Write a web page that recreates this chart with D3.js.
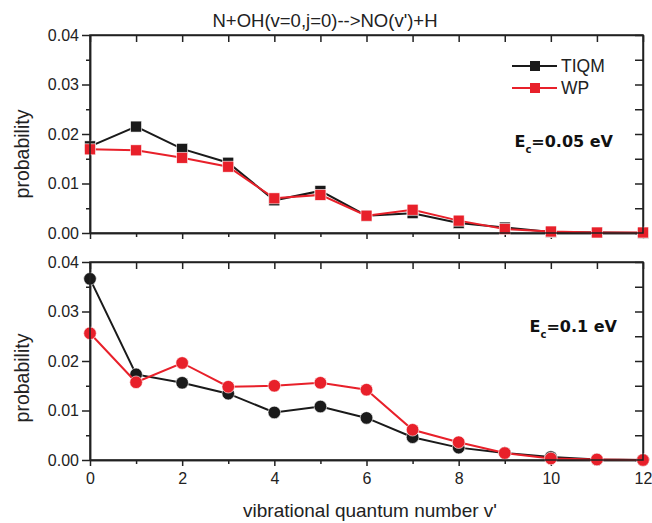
<!DOCTYPE html>
<meta charset="utf-8">
<style>
body {
  margin: 0;
  background: #fff;
  font-family: "Liberation Sans", Arial, sans-serif;
}
.axis path, .axis line {
  stroke: #222;
  stroke-width: 1.5;
}
.axis text {
  font-family: "Liberation Sans", Arial, sans-serif;
  font-size: 16px;
  fill: #222;
}
</style>
<body>
<script src="https://cdn.jsdelivr.net/npm/d3@7"></script>
<script>

var width = 652,
    height = 523;

// vibrational quantum number v'
var levels = [0, 1, 2, 3, 4, 5, 6, 7, 8, 9, 10, 11, 12];

// Ec = 0.05 eV
var tiqm05 = [0.0175, 0.0215, 0.0170, 0.0142, 0.0066, 0.0085, 0.0035, 0.0040, 0.0020, 0.0011, 0.0002, 0.0001, 0.0000];
var wp05   = [0.0169, 0.0167, 0.0152, 0.0134, 0.0070, 0.0077, 0.0035, 0.0047, 0.0025, 0.0008, 0.0003, 0.0001, 0.0001];

// Ec = 0.1 eV
var tiqm1 = [0.0366, 0.0173, 0.0156, 0.0134, 0.0096, 0.0108, 0.0085, 0.0046, 0.0025, 0.0014, 0.0006, 0.0001, 0.0000];
var wp1   = [0.0256, 0.0157, 0.0196, 0.0148, 0.0150, 0.0156, 0.0142, 0.0061, 0.0036, 0.0014, 0.0003, 0.0001, 0.0000];

var yTicks = [0, 0.01, 0.02, 0.03, 0.04];
var yMinor = [0.005, 0.015, 0.025, 0.035];
var xTicks = [0, 2, 4, 6, 8, 10, 12];
var xMinor = [1, 3, 5, 7, 9, 11];

var panels = [
  {tiqm: tiqm05, wp: wp05, marker: "square", label: "=0.05 eV", top: 35, bottom: 233, labelX: 613, labelY: 147, ylabY: 154, xlabels: false},
  {tiqm: tiqm1, wp: wp1, marker: "circle", label: "=0.1 eV", top: 262, bottom: 460, labelX: 617, labelY: 332, ylabY: 378, xlabels: true}
];

var black = "#1a1a1a",
    red = "#e8202a";

var x = d3.scaleLinear().domain([0, 12]).range([90, 643]);

var svg = d3.select("body").append("svg")
    .attr("width", width)
    .attr("height", height);

// title
svg.append("text")
    .attr("x", 325)
    .attr("y", 27)
    .attr("text-anchor", "middle")
    .style("font-size", "18.5px")
    .style("fill", "#222")
    .text("N+OH(v=0,j=0)-->NO(v')+H");

panels.forEach(function(p) {

  var y = d3.scaleLinear().domain([0, 0.04]).range([p.bottom, p.top]);
  var g = svg.append("g");

  // bottom axis (outward)
  g.append("g").attr("class", "axis")
      .attr("transform", "translate(0," + p.bottom + ")")
      .call(d3.axisBottom(x).tickValues(xTicks).tickSize(6).tickSizeOuter(0)
        .tickFormat(p.xlabels ? d3.format("d") : ""))
      .selectAll("text").attr("dy", "0.95em");
  g.append("g").attr("class", "axis")
      .attr("transform", "translate(0," + p.bottom + ")")
      .call(d3.axisBottom(x).tickValues(xMinor).tickSize(4).tickSizeOuter(0).tickFormat(""));

  // top axis (inward)
  g.append("g").attr("class", "axis")
      .attr("transform", "translate(0," + p.top + ")")
      .call(d3.axisBottom(x).tickValues(d3.merge([xTicks, xMinor])).tickSize(7).tickSizeOuter(0).tickFormat(""));

  // left axis (outward)
  g.append("g").attr("class", "axis")
      .attr("transform", "translate(" + x(0) + ",0)")
      .call(d3.axisLeft(y).tickValues(yTicks).tickSize(8).tickSizeOuter(0).tickFormat(d3.format(".2f")))
      .selectAll("text").attr("x", -11);
  g.append("g").attr("class", "axis")
      .attr("transform", "translate(" + x(0) + ",0)")
      .call(d3.axisLeft(y).tickValues(yMinor).tickSize(4).tickSizeOuter(0).tickFormat(""));

  // right axis (inward)
  g.append("g").attr("class", "axis")
      .attr("transform", "translate(" + x(12) + ",0)")
      .call(d3.axisLeft(y).tickValues(d3.merge([yTicks, yMinor])).tickSize(8).tickSizeOuter(0).tickFormat(""));

  // y label
  g.append("text")
      .attr("transform", "translate(29," + p.ylabY + ") rotate(-90)")
      .attr("text-anchor", "middle")
      .style("font-size", "19.5px")
      .style("fill", "#222")
      .text("probability");

  var line = d3.line()
      .x(function(d, i) { return x(levels[i]); })
      .y(function(d) { return y(d); });

  [[p.tiqm, black], [p.wp, red]].forEach(function(s) {
    g.append("path")
        .datum(s[0])
        .attr("d", line)
        .attr("fill", "none")
        .attr("stroke", s[1])
        .attr("stroke-width", 2);

    var m = g.selectAll(null).data(s[0]);
    if (p.marker == "square") {
      m.enter().append("rect")
          .attr("x", function(d, i) { return x(levels[i]) - 5.5; })
          .attr("y", function(d) { return y(d) - 5.5; })
          .attr("width", 11)
          .attr("height", 11)
          .attr("fill", s[1])
          .attr("stroke", "#fff")
          .attr("stroke-width", 0.6);
    } else {
      m.enter().append("circle")
          .attr("cx", function(d, i) { return x(levels[i]); })
          .attr("cy", function(d) { return y(d); })
          .attr("r", 6.3)
          .attr("fill", s[1])
          .attr("stroke", "#fff")
          .attr("stroke-width", 0.6);
    }
  });

  // energy label
  var t = g.append("text")
      .attr("x", p.labelX)
      .attr("y", p.labelY)
      .attr("text-anchor", "end")
      .style("font-family", "'DejaVu Sans', Verdana, sans-serif")
      .style("font-weight", "bold")
      .style("font-size", "16px")
      .style("fill", "#111");
  t.append("tspan").text("E");
  t.append("tspan").attr("dy", 6).style("font-size", "10px").text("c");
  t.append("tspan").attr("dy", -6).text(p.label);

  // frame borders
  g.append("rect")
      .attr("x", x(0))
      .attr("y", p.top)
      .attr("width", x(12) - x(0))
      .attr("height", p.bottom - p.top)
      .attr("fill", "none")
      .attr("stroke", "#222")
      .attr("stroke-width", 1.5);
});

// legend
var legend = svg.append("g");
[["TIQM", black, 66], ["WP", red, 88]].forEach(function(l) {
  legend.append("line")
      .attr("x1", 512).attr("x2", 557)
      .attr("y1", l[2]).attr("y2", l[2])
      .attr("stroke", l[1]).attr("stroke-width", 2);
  legend.append("rect")
      .attr("x", 530).attr("y", l[2] - 5)
      .attr("width", 10).attr("height", 10)
      .attr("fill", l[1]);
  legend.append("text")
      .attr("x", 561).attr("y", l[2] + 6)
      .style("font-size", "17.5px")
      .style("fill", "#222")
      .text(l[0]);
});

// x label
svg.append("text")
    .attr("x", 370)
    .attr("y", 517)
    .attr("text-anchor", "middle")
    .style("font-size", "19px")
    .style("fill", "#222")
    .text("vibrational quantum number v'");

</script>
</body>
